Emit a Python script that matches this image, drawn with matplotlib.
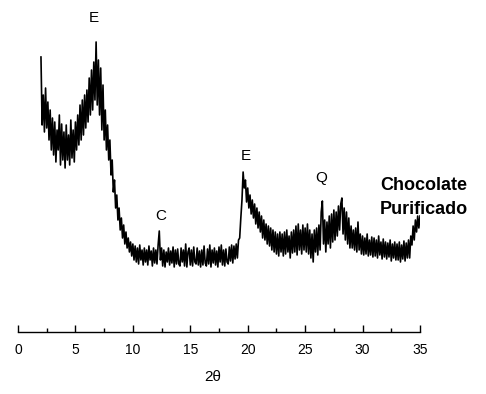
import numpy as np
import matplotlib
matplotlib.use("Agg")
import matplotlib.pyplot as plt
from matplotlib.ticker import MultipleLocator

plt.rcParams["font.family"] = ["Liberation Sans", "DejaVu Sans"]

# 2theta from 2.0 to 35.0 in 0.1 steps, one row per degree
two_theta = np.round(np.arange(2.0, 35.05, 0.1), 1)
intensity = [
    243, 175, 205, 168, 212, 172, 198, 160, 190, 150,   # 2
    182, 145, 178, 138, 170, 150, 185, 135, 176, 140,   # 3
    168, 132, 175, 140, 165, 135, 180, 142, 170, 138,   # 4
    178, 150, 185, 155, 195, 160, 200, 165, 205, 172,   # 5
    210, 178, 222, 185, 230, 190, 238, 200, 258, 195,   # 6
    240, 185, 232, 170, 215, 160, 190, 150, 175, 140,   # 7
    160, 125, 140, 108, 120, 92, 105, 80, 92, 70,       # 8
    82, 62, 75, 56, 68, 52, 62, 48, 58, 44,             # 9
    56, 40, 54, 38, 52, 36, 55, 40, 50, 35,             # 10
    52, 38, 50, 35, 54, 40, 49, 34, 52, 37,             # 11
    50, 36, 55, 69, 40, 52, 34, 50, 33, 48,             # 12
    38, 52, 35, 49, 37, 53, 33, 50, 36, 51,             # 13
    36, 34, 52, 38, 50, 34, 56, 33, 48, 52,             # 14
    35, 50, 34, 53, 38, 36, 52, 35, 49, 33,             # 15
    50, 35, 54, 37, 34, 51, 36, 55, 33, 50,             # 16
    37, 52, 35, 49, 33, 53, 38, 55, 35, 50,             # 17
    34, 51, 38, 36, 53, 39, 55, 37, 54, 41,             # 18
    56, 42, 60, 62, 82, 100, 128, 112, 120, 98,         # 19
    112, 92, 105, 86, 100, 82, 96, 76, 92, 72,          # 20
    88, 68, 84, 62, 80, 60, 76, 56, 74, 54,             # 21
    72, 50, 70, 48, 68, 46, 66, 44, 68, 48,             # 22
    66, 44, 68, 46, 70, 48, 64, 42, 68, 47,             # 23
    70, 48, 74, 45, 76, 50, 70, 46, 75, 50,             # 24
    72, 48, 76, 46, 70, 42, 66, 38, 70, 48,             # 25
    72, 45, 75, 50, 88, 99, 56, 80, 48, 78,             # 26
    56, 84, 52, 86, 58, 90, 60, 88, 64, 94,             # 27
    70, 96, 102, 66, 92, 60, 88, 56, 82, 52,            # 28
    74, 52, 70, 50, 72, 48, 78, 50, 66, 46,             # 29
    64, 45, 62, 46, 66, 44, 60, 45, 63, 43,             # 30
    62, 44, 60, 42, 64, 45, 58, 41, 61, 43,             # 31
    58, 41, 57, 43, 60, 39, 56, 42, 58, 40,             # 32
    56, 40, 58, 38, 55, 41, 59, 39, 57, 42,             # 33
    60, 42, 64, 55, 74, 60, 80, 68, 84, 72,             # 34
    84,                                                 # 35
]

peak_labels = ["E", "C", "E", "Q"]
peak_x = [6.6, 12.4, 19.8, 26.4]
peak_y = [282, 84, 144, 122]

fig = plt.figure(figsize=(4.86, 3.94), dpi=100)
ax = fig.add_axes([18 / 486, 62 / 394, 402 / 486, 332 / 394])
ax.plot(two_theta, intensity, color="black", lw=1.2)

for lbl, x, y in zip(peak_labels, peak_x, peak_y):
    ax.text(x, y, lbl, ha="center", va="center", fontsize=11)
ax.text(35.3, 114, "Chocolate", ha="center", va="center", fontsize=13, fontweight="bold")
ax.text(35.3, 91, "Purificado", ha="center", va="center", fontsize=13, fontweight="bold")

ax.set_xlim(0, 35)
ax.set_ylim(-32, 300)
for side in ("top", "right", "left"):
    ax.spines[side].set_visible(False)
ax.spines["bottom"].set_linewidth(1.0)
ax.set_yticks([])
ax.xaxis.set_major_locator(MultipleLocator(5))
ax.xaxis.set_minor_locator(MultipleLocator(2.5))
ax.tick_params(axis="x", which="major", direction="in", length=5, width=1, pad=8, labelsize=10)
ax.tick_params(axis="x", which="minor", direction="in", length=3, width=1)
ax.patch.set_visible(False)

fig.text(213 / 486, 1 - 377 / 394, "2θ", ha="center", va="center", fontsize=11)

fig.savefig("out.png", dpi=100)
